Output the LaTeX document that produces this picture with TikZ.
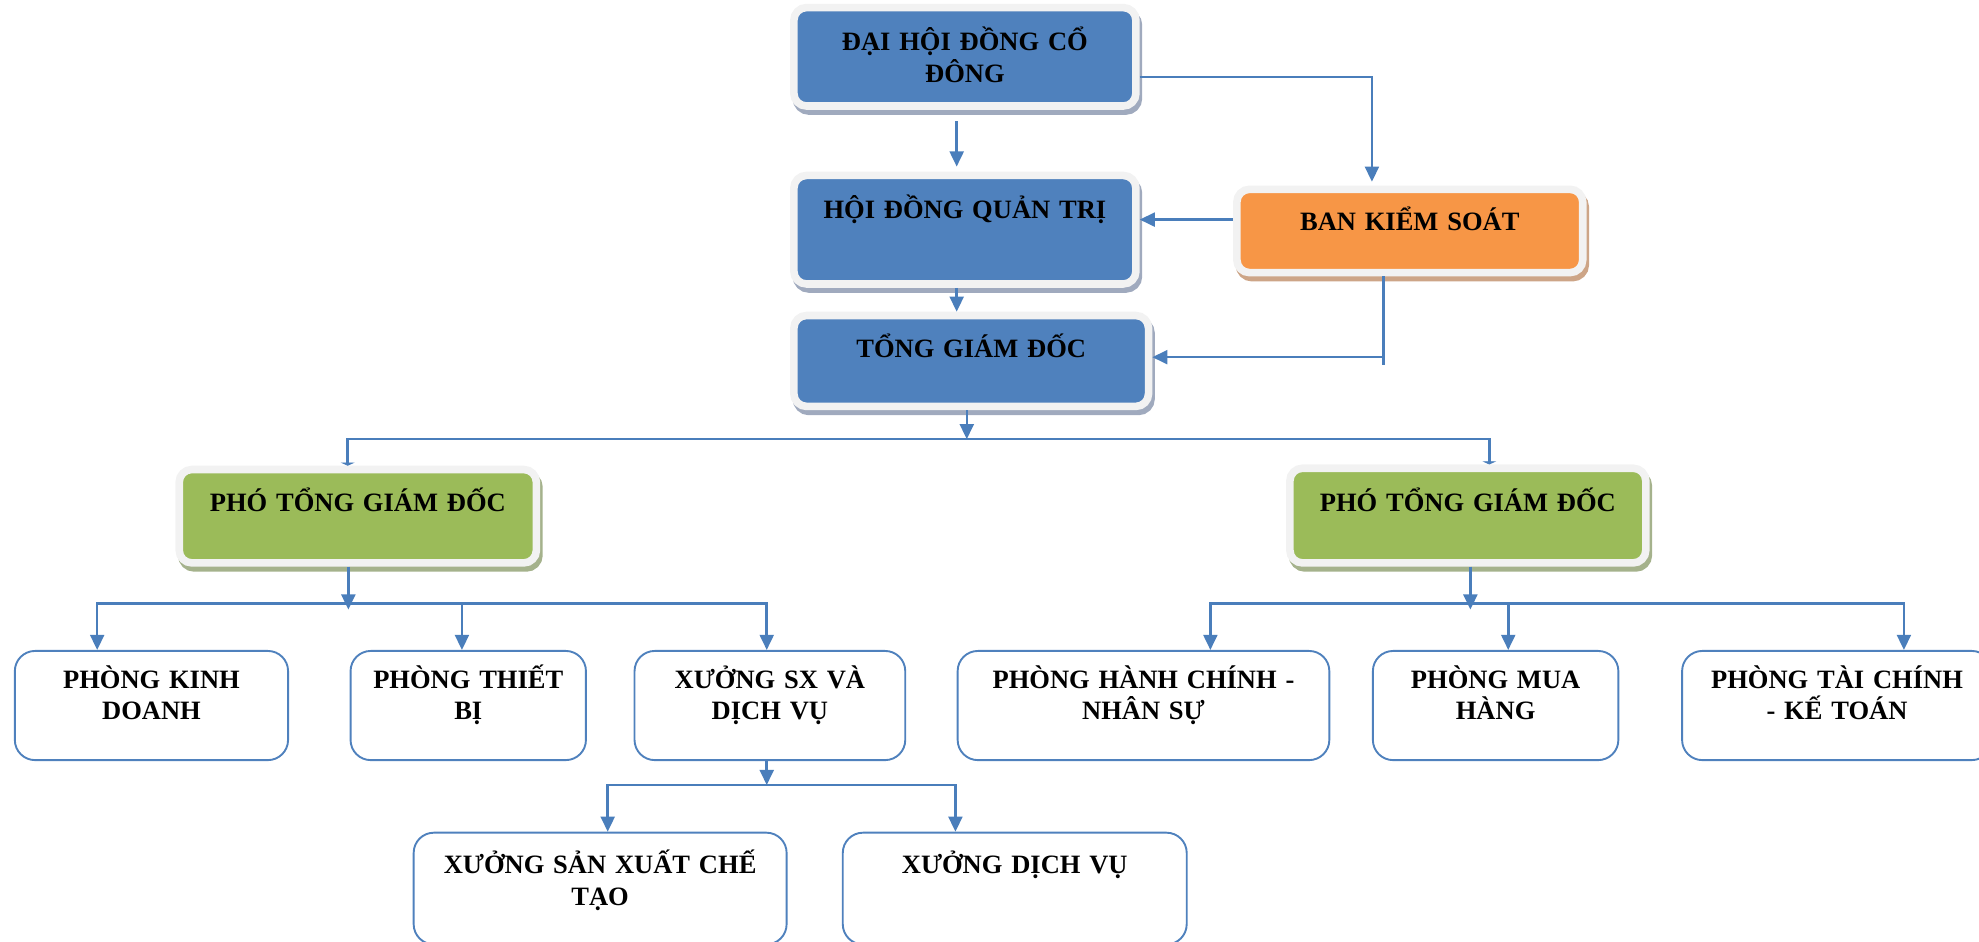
\documentclass[tikz,border=0pt]{standalone}
\usepackage{fontspec}
\setmainfont{Liberation Serif}
\usepackage{tikz}
\usetikzlibrary{calc,arrows.meta,shadows}

\definecolor{boxblue}{RGB}{79,129,189}
\definecolor{boxorange}{RGB}{247,150,70}
\definecolor{boxgreen}{RGB}{155,187,89}
\definecolor{framegray}{RGB}{242,242,242}
\definecolor{shadeblue}{RGB}{160,170,190}
\definecolor{shadegreen}{RGB}{165,178,140}
\definecolor{shadeorange}{RGB}{205,165,135}
\definecolor{linkblue}{RGB}{74,126,187}

\begin{document}
\begin{tikzpicture}[x=1pt,y=1pt,yscale=-1,xscale=1,
	every node/.style={font=\bfseries\fontsize{21}{25}\selectfont, align=center, inner sep=0pt, anchor=north west},
	framebox/.style 2 args={fill=#1, draw=framegray, line width=6pt, rounded corners=10pt, general shadow={fill=#2, draw=#2, shadow xshift=2pt, shadow yshift=-4pt}},
	whitebox/.style={fill=white, draw=boxblue, line width=1.5pt, rounded corners=16pt},
	sz/.style args={#1/#2/#3}{text width=#1pt, text height=#2pt, text depth=#3pt},
	conn/.style={draw=linkblue, line width=2pt, -{Triangle[length=12pt,width=11pt]}},
	flat/.style={draw=linkblue, line width=2pt, -{Triangle[length=2.5pt,width=11pt]}}
	]
	\useasboundingbox (0,0) rectangle (1568,746);
	
	%Rounded Rect: top level
	\node[framebox={boxblue}{shadeblue}, sz=271/34/44] (dhd) at (626,3) {ĐẠI HỘI ĐỒNG CỔ\\ĐÔNG};
	\node[framebox={boxblue}{shadeblue}, sz=271/34/52] (hdqt) at (626,136) {HỘI ĐỒNG QUẢN TRỊ};
	\node[framebox={boxorange}{shadeorange}, sz=274/33/33] (bks) at (977,147) {BAN KIỂM SOÁT};
	\node[framebox={boxblue}{shadeblue}, sz=281/33/39] (tgd) at (626,247) {TỔNG GIÁM ĐỐC};
	%Rounded Rect: deputies
	\node[framebox={boxgreen}{shadegreen}, sz=283/33/41] (ptgd1) at (139,369) {PHÓ TỔNG GIÁM ĐỐC};
	\node[framebox={boxgreen}{shadegreen}, sz=282/34/41] (ptgd2) at (1019,368) {PHÓ TỔNG GIÁM ĐỐC};
	%Rounded Rect: departments
	\node[whitebox, sz=216.5/29.5/57] (pkd) at (11,515) {PHÒNG KINH\\DOANH};
	\node[whitebox, sz=186.5/29.5/57] (ptb) at (277,515) {PHÒNG THIẾT\\BỊ};
	\node[whitebox, sz=214.5/29.5/57] (xsx) at (502,515) {XƯỞNG SX VÀ\\DỊCH VỤ};
	\node[whitebox, sz=294.5/29.5/57] (phc) at (758,515) {PHÒNG HÀNH CHÍNH -\\NHÂN SỰ};
	\node[whitebox, sz=194.5/29.5/57] (pmh) at (1087,515) {PHÒNG MUA\\HÀNG};
	\node[whitebox, sz=245.5/29.5/57] (ptc) at (1332,515) {PHÒNG TÀI CHÍNH\\- KẾ TOÁN};
	%Rounded Rect: workshops
	\node[whitebox, sz=295.5/32.5/56] (xct) at (327,659) {XƯỞNG SẢN XUẤT CHẾ\\TẠO};
	\node[whitebox, sz=272.5/32.5/56] (xdv) at (667,659) {XƯỞNG DỊCH VỤ};
	
	%Straight Lines
	\draw[conn] ($(dhd.south)+(-6.5,9)$) -- ($(hdqt.north)+(-6.5,-4)$);
	\draw[conn] ($(dhd.east)+(0,16)$) -| ($(bks.north)+(-30,-3)$);
	\draw[conn] ($(bks.west)+(0,-9)$) -- ($(hdqt.east)+(0,-8)$);
	\draw[conn] ($(hdqt.south)+(-6.5,0)$) -- ($(tgd.north)+(-11.5,0)$);
	\draw[conn] ($(bks.south)+(-21,0)$) |- ($(tgd.east)+(0,-3)$);
	\draw[draw=linkblue, line width=2pt] ($(bks.south)+(-21,63)$) -- ++(0,7);
	
	%Straight Lines: to deputies
	\coordinate (tbus) at (766,348);
	\draw[conn] (tgd.south -| tbus) -- (tbus);
	\draw[flat] (tbus) -| ($(ptgd1.north)+(-8,0)$);
	\draw[flat] (tbus) -| ($(ptgd2.north)+(17,0)$);
	
	%Straight Lines: left branch
	\coordinate (lbus) at (276,478);
	\draw[conn] (ptgd1.south -| lbus) -- ($(lbus)+(0,5)$);
	\draw[conn] (lbus) -| ($(pkd.north)+(-43,0)$);
	\draw[conn] (lbus) -| ($(ptb.north)+(-5,0)$);
	\draw[conn] (lbus) -| ($(xsx.north)+(-2.5,0)$);
	
	%Straight Lines: right branch
	\coordinate (rbus) at (1165,478);
	\draw[conn] (ptgd2.south -| rbus) -- ($(rbus)+(0,5)$);
	\draw[conn] (rbus) -| ($(phc.north)+(53,0)$);
	\draw[conn] (rbus) -| ($(pmh.north)+(10,0)$);
	\draw[conn] (rbus) -| ($(ptc.north)+(53,0)$);
	
	%Straight Lines: workshops
	\coordinate (sbus) at (607.5,622);
	\draw[conn] (xsx.south -| sbus) -- (sbus);
	\draw[conn] (sbus) -| ($(xct.north)+(6,0)$);
	\draw[conn] (sbus) -| ($(xdv.north)+(-47,0)$);
	
\end{tikzpicture}
\end{document}
